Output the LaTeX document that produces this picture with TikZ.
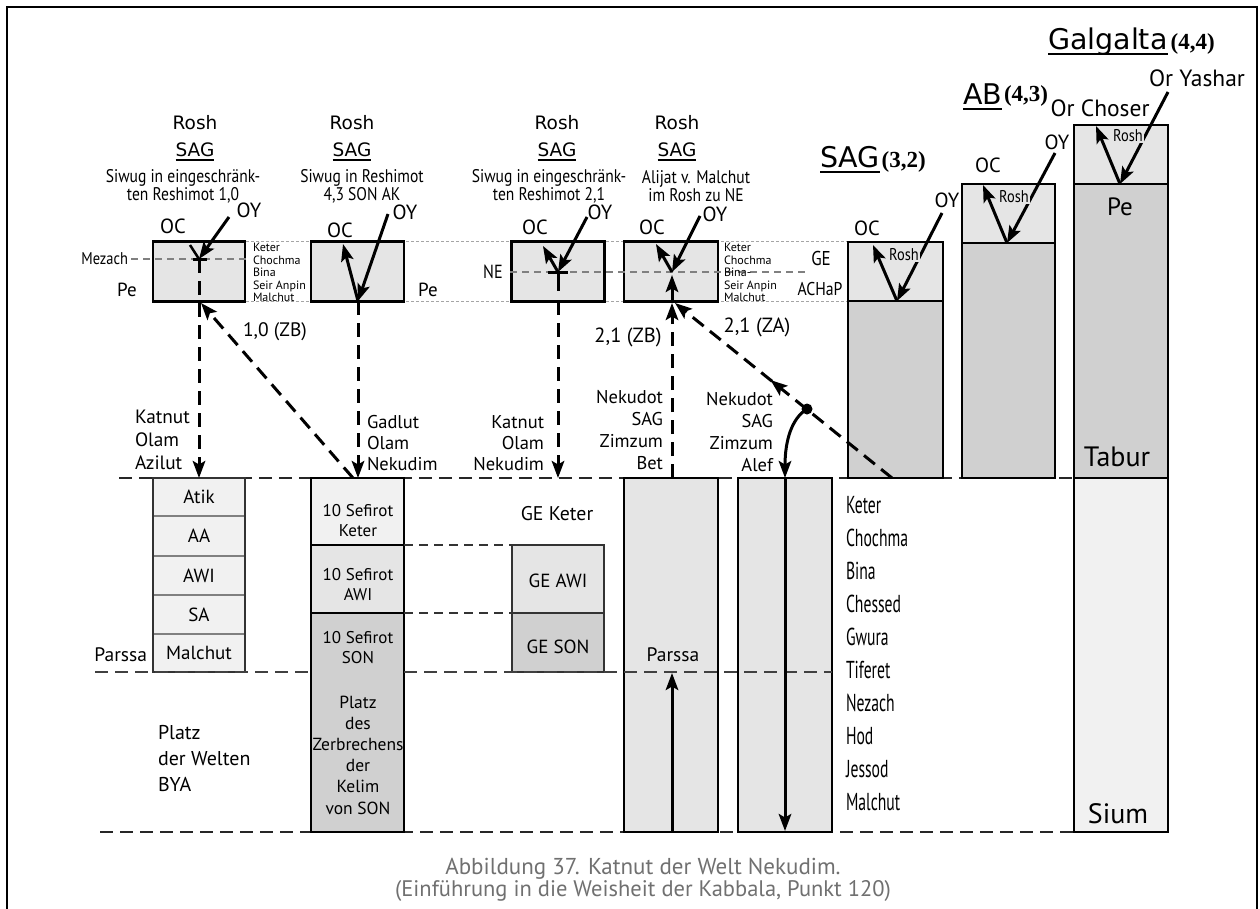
\documentclass[tikz,border=0pt]{standalone}
\usepackage{fontspec}
\setmainfont{PT Sans}
\newfontfamily\condf[FakeStretch=0.85]{PT Sans}
\newfontfamily\ccondf[FakeStretch=0.64]{PT Sans}
\newfontfamily\dinf{DejaVu Sans}
\newfontfamily\serbf{Liberation Serif}
\usetikzlibrary{arrows.meta,decorations.markings}
\definecolor{gA}{HTML}{F1F1F1}
\definecolor{gB}{HTML}{E5E5E5}
\definecolor{gC}{HTML}{D0D0D0}
\definecolor{capg}{HTML}{707070}
\definecolor{dotg}{HTML}{A5A5A5}
\tikzset{
 base/.style={inner sep=0pt,outer sep=0pt},
 lbl/.style={base,font=\fontsize{19}{22}\selectfont},
 clbl/.style={base,font=\condf\fontsize{19}{22}\selectfont},
 tinyl/.style={base,font=\fontsize{12}{12.6}\selectfont,align=left,anchor=west},
 hdr/.style={base,font=\dinf\fontsize{18.5}{22}\selectfont},
 ttl/.style={base,font=\dinf\fontsize{28.5}{30}\selectfont,anchor=base west},
 num/.style={base,font=\serbf\bfseries\fontsize{23}{24}\selectfont,anchor=base west},
 subt/.style={base,font=\condf\fontsize{18.3}{18}\selectfont,align=center},
 box/.style={base,draw=black,line width=2.5pt,rectangle},
 rowb/.style={base,draw=black!50,line width=1.2pt,fill=gA,minimum width=92,font=\fontsize{19}{22}\selectfont},
 dotl/.style={draw=dotg,line width=1pt,dash pattern=on 2.5pt off 2.5pt},
 gdash/.style={draw=black!50,line width=1.5pt,dash pattern=on 7pt off 5pt},
 mdash/.style={draw=black!80,line width=1.6pt,dash pattern=on 9pt off 6pt},
 bdash/.style={draw=black!85,line width=2.2pt,dash pattern=on 13pt off 7pt},
 arr/.style={line width=3pt,-{Stealth[length=17pt,width=12.5pt,inset=3.5pt]}},
 sarr/.style={line width=2.5pt},
 darr/.style={arr,dash pattern=on 14pt off 8pt},
 ulin/.style={line width=1.4pt},
 midarr/.style={postaction={decorate},decoration={markings,mark=at position 0.56 with {\arrow{Stealth[length=17pt,width=12.5pt,inset=3.5pt]}}}},
 rlab/.style={base,font=\condf\fontsize{17}{17}\selectfont,fill=gB,inner sep=1pt},
}
\begin{document}
\begin{tikzpicture}[x=1pt,y=-1pt]
\useasboundingbox (0,0) rectangle (1260,908);
% frame
\coordinate (f1) at (7,930); \coordinate (f2) at (7,7);
\coordinate (f3) at (1257,7); \coordinate (f4) at (1257,930);
\draw[line width=2pt] (f1) -- (f2) -- (f3) -- (f4);

% guide lines
\coordinate (dtl) at (246,241); \coordinate (dtr) at (848,241);
\coordinate (dbl) at (246,301); \coordinate (dbr) at (848,301);
\draw[dotl] (dtl) -- (dtr);
\draw[dotl] (dbl) -- (dbr);
\coordinate (bl0) at (119,478); \coordinate (bl1) at (1074,478);
\draw[bdash] (bl0) -- (bl1);
\coordinate (bb0) at (100,832); \coordinate (bb1) at (1074,832);
\draw[bdash] (bb0) -- (bb1);

% Rosh boxes
\node[box,fill=gB,minimum width=92,minimum height=60] (r1) at (199,271.5) {};
\node[box,fill=gB,minimum width=93,minimum height=60] (r2) at (357.5,271.5) {};
\node[box,fill=gB,minimum width=93,minimum height=60] (r3) at (558,271.5) {};
\node[box,fill=gB,minimum width=94,minimum height=60] (r4) at (671,271.5) {};

% Mezach / NE lines
\coordinate (mz0) at (131,259); \coordinate (mz1) at (246,259);
\draw[gdash] (mz0) -- (mz1);
\coordinate (ne0) at (510,272); \coordinate (ne1) at (808,272);
\draw[gdash] (ne0) -- (ne1);

% SAG, AB, Galgalta
\node[box,fill=gB,minimum width=95,minimum height=59] (sagR) at (895.5,271.5) {};
\node[box,fill=gC,minimum width=95,minimum height=177] (sagB) at (895.5,389.5) {};
\node[box,fill=gB,minimum width=93,minimum height=59] (abR) at (1008.5,213.5) {};
\node[box,fill=gC,minimum width=93,minimum height=235] (abB) at (1008.5,360.5) {};
\node[box,fill=gB,minimum width=94,minimum height=59] (galR) at (1121,154.5) {};
\node[box,fill=gC,minimum width=94,minimum height=294] (galB) at (1121,331) {};
\node[box,fill=gA,minimum width=94,minimum height=354] (galL) at (1121,655) {};

% Azilut stack
\node[rowb,minimum height=38] (atik) at (199,497) {Atik};
\node[rowb,minimum height=40] (aa) at (199,536) {AA};
\node[rowb,minimum height=39] (awi) at (199,575.5) {AWI};
\node[rowb,minimum height=39] (sa) at (199,614.5) {SA};
\node[rowb,minimum height=38] (mal) at (199,653) {Malchut};
\node[base,draw=black!80,line width=2pt,minimum width=92,minimum height=194] (azil) at (199,575) {};

% Nekudim stack
\node[box,fill=gA,minimum width=93,minimum height=67] (nk) at (357.5,511.5) {};
\node[box,fill=gB,minimum width=93,minimum height=68] (na) at (357.5,579) {};
\node[box,fill=gC,minimum width=93,minimum height=219] (ns) at (357.5,722.5) {};

% GE boxes
\node[base,draw=black!80,line width=2pt,fill=gB,minimum width=92,minimum height=68] (gea) at (558,579) {};
\node[base,draw=black!80,line width=2pt,fill=gC,minimum width=92,minimum height=59] (ges) at (558,642.5) {};
\draw[mdash] (na.north east) -- (gea.north west);
\draw[mdash] (ns.north east) -- (ges.north west);

% Bet / Alef columns
\node[box,fill=gB,minimum width=94,minimum height=354] (bet) at (671,655) {};
\node[box,fill=gB,minimum width=94,minimum height=354] (alef) at (785,655) {};

% Parssa line
\coordinate (pa0) at (95,672); \coordinate (pa1) at (311,672);
\coordinate (pa2) at (404,672); \coordinate (pa3) at (832,672);
\draw[bdash,draw=black!75,line width=1.8pt] (pa0) -- (pa1);
\draw[bdash,draw=black!75,line width=1.8pt] (pa2) -- (pa3);

% ---- arrows in Rosh boxes
\coordinate (j1) at (199,259); \coordinate (oy1) at (229,217); \coordinate (oc1) at (190,245);
\coordinate (t1a) at (193,259); \coordinate (t1b) at (207,259);
\draw[arr] (oy1) -- (j1);
\draw[sarr] (j1) -- (oc1);
\draw[line width=3pt] (t1a) -- (t1b);
\draw[darr] (j1) -- (atik.north);

\coordinate (j2) at (358,301); \coordinate (oy2) at (388,214); \coordinate (oc2) at (343,244);
\draw[arr] (oy2) -- (j2);
\draw[arr] (j2) -- (oc2);
\coordinate (nkt) at (358,478);
\draw[darr] (j2) -- (nkt);
\coordinate (zb1s) at (353,478); \coordinate (zb1e) at (201,303);
\draw[darr] (zb1s) -- (zb1e);

\coordinate (j3) at (558,272); \coordinate (oy3) at (587,217); \coordinate (oc3) at (543,246);
\coordinate (t3a) at (548,272); \coordinate (t3b) at (568,272); \coordinate (t3c) at (558,291);
\draw[arr] (oy3) -- (j3);
\draw[arr] (j3) -- (oc3);
\draw[line width=3pt] (t3a) -- (t3b);
\draw[line width=3pt] (j3) -- (t3c);
\coordinate (d3s) at (558,301); \coordinate (d3e) at (558,478);
\draw[darr] (d3s) -- (d3e);

\coordinate (j4) at (672,272); \coordinate (oy4) at (700,216); \coordinate (oc4) at (656,244);
\coordinate (j4b) at (672,301); \coordinate (j4u) at (672,275);
\draw[arr] (oy4) -- (j4);
\draw[arr] (j4) -- (oc4);
\draw[arr] (j4b) -- (j4u);
\coordinate (bts) at (672,478); \coordinate (bte) at (672,303);
\draw[darr] (bts) -- (bte);
\coordinate (zas) at (892,478); \coordinate (zae) at (675,303);
\draw[darr,midarr] (zas) -- (zae);

% SAG / AB / Galgalta rosh arrows
\coordinate (jS) at (897,301); \coordinate (oyS) at (942,213); \coordinate (ocS) at (873,245);
\draw[arr] (oyS) -- (jS); \draw[arr] (jS) -- (ocS);
\coordinate (jA) at (1007,243); \coordinate (oyA) at (1055,153); \coordinate (ocA) at (983,185);
\draw[arr] (oyA) -- (jA); \draw[arr] (jA) -- (ocA);
\coordinate (jG) at (1120,184); \coordinate (oyG) at (1168,92); \coordinate (ocG) at (1096,126);
\draw[arr] (oyG) -- (jG); \draw[arr] (jG) -- (ocG);
\node[rlab] (rS) at (904,255) {Rosh};
\node[rlab] (rA) at (1014,197) {Rosh};
\node[rlab] (rG) at (1128,136) {Rosh};

% Bet / Alef arrows
\coordinate (pb0) at (672,831); \coordinate (pb1) at (672,673);
\draw[arr] (pb0) -- (pb1);
\node[base,circle,fill=black,minimum size=11pt] (dot) at (807,409) {};
\coordinate (al0) at (785,478); \coordinate (al1) at (785,831);
\draw[arr] (dot.center) .. controls (792,418) and (785,440) .. (al0);
\draw[arr] (al0) -- (al1);

% ---- texts: headers
\node[hdr] (h1a) at (195,123) {Rosh};
\node[hdr] (h1b) at (195,150) {SAG};
\node[hdr] (h2a) at (352,123) {Rosh};
\node[hdr] (h2b) at (352,150) {SAG};
\node[hdr] (h3a) at (557,123) {Rosh};
\node[hdr] (h3b) at (557,150) {SAG};
\node[hdr] (h4a) at (677,123) {Rosh};
\node[hdr] (h4b) at (677,150) {SAG};
\foreach \n in {h1b,h2b,h3b,h4b}{\draw[ulin] ([yshift=-3pt]\n.south west) -- ([yshift=-3pt]\n.south east);}
\node[subt] (s1) at (183,186) {Siwug in eingeschränk-\\ten Reshimot 1,0};
\node[subt] (s2) at (362,186) {Siwug in Reshimot\\4,3 SON AK};
\node[subt] (s3) at (549,186) {Siwug in eingeschränk-\\ten Reshimot 2,1};
\node[subt] (s4) at (696,186) {Alijat v. Malchut\\im Rosh zu NE};

% OC / OY
\tikzset{ocl/.style={base,font=\fontsize{20.5}{22}\selectfont}}
\node[ocl] (oc1l) at (173,226) {OC}; \node[ocl] (oy1l) at (249,210) {OY};
\node[ocl] (oc2l) at (340,230) {OC}; \node[ocl] (oy2l) at (405,212) {OY};
\node[ocl] (oc3l) at (535,227) {OC}; \node[ocl] (oy3l) at (600,212) {OY};
\node[ocl] (oc4l) at (652,227) {OC}; \node[ocl] (oy4l) at (715,214) {OY};
\node[ocl] (ocSl) at (867,228) {OC}; \node[ocl] (oySl) at (947,200) {OY};
\node[ocl] (ocAl) at (988,165) {OC}; \node[ocl] (oyAl) at (1057,142) {OY};
\node[base,font=\fontsize{23.5}{24}\selectfont] (orC) at (1100,108) {Or Choser};
\node[base,font=\fontsize{23.5}{24}\selectfont] (orY) at (1197,78) {Or Yashar};

% titles
\node[ttl] (tS) at (820,167) {SAG}; \node[num] (tSn) at ([xshift=2pt]tS.base east) {(3,2)};
\node[ttl] (tA) at (963,104) {AB}; \node[num] (tAn) at ([xshift=2pt,yshift=3pt]tA.base east) {(4,3)};
\node[ttl] (tG) at (1048,49) {Galgalta}; \node[num] (tGn) at ([xshift=3pt]tG.base east) {(4,4)};
\foreach \n in {tS,tA,tG}{\draw[ulin] ([yshift=-5pt]\n.base west) -- ([yshift=-5pt]\n.base east);}

% small labels at rosh
\node[base,font=\condf\fontsize{17}{18}\selectfont,anchor=east] (mezl) at (128,259) {Mezach};
\node[tinyl] (kl1) at (253,272.5) {Keter\\Chochma\\Bina\\Seir Anpin\\Malchut};
\node[tinyl] (kl4) at (724,272.5) {Keter\\Chochma\\Bina-\\Seir Anpin\\Malchut};
\node[lbl] (pe1) at (127,290) {Pe};
\node[lbl] (pe2) at (428,290) {Pe};
\node[clbl] (nel) at (493,272) {NE};
\node[clbl,font=\condf\fontsize{20}{22}\selectfont] (gel) at (821,258) {GE};
\node[clbl,font=\condf\fontsize{18.5}{22}\selectfont] (achl) at (820,289) {ACHaP};

% Galgalta texts
\node[base,font=\fontsize{25}{26}\selectfont] (pe3) at (1120,207) {Pe};
\node[base,font=\fontsize{28}{28}\selectfont] (tab) at (1117,457) {Tabur};
\node[base,font=\fontsize{28}{28}\selectfont] (sium) at (1118,814) {Sium};

% middle labels
\node[base,font=\fontsize{19.5}{22}\selectfont] (zb1) at (275,332) {1,0 (ZB)};
\node[base,font=\fontsize{20.5}{22}\selectfont] (zb2) at (628,337) {2,1 (ZB)};
\node[base,font=\fontsize{20.5}{22}\selectfont] (za2) at (757,327) {2,1 (ZA)};
\node[lbl,align=left,anchor=west,font=\fontsize{19.3}{23}\selectfont] (kat1) at (135,440) {Katnut\\Olam\\Azilut};
\node[lbl,align=left,anchor=west,font=\fontsize{18.5}{21}\selectfont] (gad) at (367,443) {Gadlut\\Olam\\Nekudim};
\node[lbl,align=right,anchor=east,font=\fontsize{18.5}{21}\selectfont] (kat2) at (544,443) {Katnut\\Olam\\Nekudim};
\node[lbl,align=right,anchor=east,font=\fontsize{18.5}{22}\selectfont] (nkb) at (663,430) {Nekudot\\SAG\\Zimzum\\Bet};
\node[lbl,align=right,anchor=east,font=\fontsize{18.5}{22}\selectfont] (nka) at (773,432) {Nekudot\\SAG\\Zimzum\\Alef};

% lower labels
\node[lbl,anchor=east,font=\fontsize{19.5}{22}\selectfont] (parl) at (147,655) {Parssa};
\node[lbl,align=left,anchor=west,font=\fontsize{20}{26}\selectfont] (platz) at (158,758) {Platz\\der Welten\\BYA};
\node[lbl,align=center,font=\fontsize{17}{20}\selectfont] (nkl) at (358,521) {10 Sefirot\\Keter};
\node[lbl,align=center,font=\fontsize{17}{20}\selectfont] (nal) at (358,585) {10 Sefirot\\AWI};
\node[lbl,align=center,font=\fontsize{17}{20}\selectfont] (nsl) at (358,648) {10 Sefirot\\SON};
\node[lbl,align=center,font=\fontsize{17.5}{21.2}\selectfont] (platz2) at (358,755) {Platz\\des\\Zerbrechens\\der\\Kelim\\von SON};
\node[lbl,font=\fontsize{19.8}{22}\selectfont] (gek) at (557,514) {GE Keter};
\node[lbl] (geal) at (558,581) {GE AWI};
\node[lbl] (gesl) at (558,647) {GE SON};
\node[lbl,font=\fontsize{19.5}{22}\selectfont] (parb) at (673,655) {Parssa};
\node[base,font=\ccondf\fontsize{24.5}{33}\selectfont,align=left,anchor=west] (sefl) at (846,654) {Keter\\Chochma\\Bina\\Chessed\\Gwura\\Tiferet\\Nezach\\Hod\\Jessod\\Malchut};

% caption
\node[base,text=capg,font=\fontsize{23}{24}\selectfont] (cap1) at (643,869) {Abbildung 37. Katnut der Welt Nekudim.};
\node[base,text=capg,font=\fontsize{22.5}{24}\selectfont] (cap2) at (643,891) {(Einführung in die Weisheit der Kabbala, Punkt 120)};
\end{tikzpicture}
\end{document}
